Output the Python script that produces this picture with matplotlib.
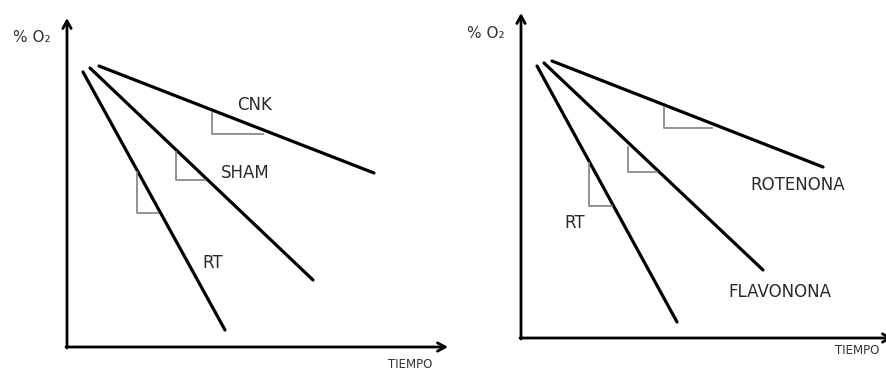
import matplotlib
matplotlib.use("Agg")
import matplotlib.pyplot as plt

# ---- Data (schematic units, relative to each panel's axis origin) ----
# Left panel
left_origin = (67, 347)
left_axis_len = (381, 329)
left_lines = {
    "RT":   [(16, 275), (158, 17)],
    "SHAM": [(23, 279), (246, 67)],
    "CNK":  [(32, 281), (307, 174)],
}
left_triangles = [  # (x, y_top, y_bottom, x_right)
    (145, 234, 213, 196),
    (109, 195, 167, 138),
    (70, 175, 134, 91),
]
left_labels = {"CNK": (188, 242), "SHAM": (178, 174), "RT": (146, 84)}
left_ylabel_pos = (-35, 309)
left_xlabel_pos = (343, -17)

# Right panel
right_origin = (521, 338)
right_axis_len = (372, 325)
right_lines = {
    "RT":        [(16, 272), (156, 16)],
    "FLAVONONA": [(23, 275), (242, 68)],
    "ROTENONA":  [(31, 277), (302, 171)],
}
right_triangles = [
    (143, 231, 210, 191),
    (107, 191, 166, 136),
    (68, 175, 132, 91),
]
right_labels = {"ROTENONA": (277, 153), "FLAVONONA": (259, 46), "RT": (54, 115)}
right_ylabel_pos = (-35, 305)
right_xlabel_pos = (336, -12)

ylabel_text = "% O\u2082"
xlabel_text = "TIEMPO"

W, H = 887, 371
fig = plt.figure(figsize=(W / 100, H / 100), dpi=100)
ax = fig.add_axes([0, 0, 1, 1])
ax.set_xlim(0, W)
ax.set_ylim(H, 0)
ax.axis("off")

FONT = "DejaVu Sans"
ARROW = dict(arrowstyle="->,head_length=0.55,head_width=0.3",
             color="black", lw=2.0, shrinkA=0, shrinkB=0)


def draw_panel(origin, axis_len, lines, triangles, labels, ylab_pos, xlab_pos, label_size):
    ox, oy = origin

    def P(x, y):
        return ox + x, oy - y

    # axes with arrows
    ax.annotate("", xy=P(0, axis_len[1]), xytext=P(0, -1),
                arrowprops=ARROW, annotation_clip=False)
    ax.annotate("", xy=P(axis_len[0], 0), xytext=P(-1, 0),
                arrowprops=ARROW, annotation_clip=False)
    for name, pts in lines.items():
        xs = [P(*p)[0] for p in pts]
        ys = [P(*p)[1] for p in pts]
        ax.plot(xs, ys, color="black", lw=2.3, solid_capstyle="round")
    for (x, yt, yb, xr) in triangles:
        xs = [P(x, yt)[0], P(x, yb)[0], P(xr, yb)[0]]
        ys = [P(x, yt)[1], P(x, yb)[1], P(xr, yb)[1]]
        ax.plot(xs, ys, color="#8a8a8a", lw=1.3)
    for name, pos in labels.items():
        x, y = P(*pos)
        ax.text(x, y, name, ha="center", va="center", fontsize=label_size,
                color="#2a2a2a", family=FONT)
    x, y = P(*ylab_pos)
    ax.text(x, y, ylabel_text, ha="center", va="center", fontsize=11,
            color="#333333", family=FONT)
    x, y = P(*xlab_pos)
    ax.text(x, y, xlabel_text, ha="center", va="center", fontsize=8.5,
            color="#333333", family=FONT)


draw_panel(left_origin, left_axis_len, left_lines, left_triangles, left_labels,
           left_ylabel_pos, left_xlabel_pos, 12)
draw_panel(right_origin, right_axis_len, right_lines, right_triangles, right_labels,
           right_ylabel_pos, right_xlabel_pos, 12)

fig.savefig("out.png", dpi=100, facecolor="white")
